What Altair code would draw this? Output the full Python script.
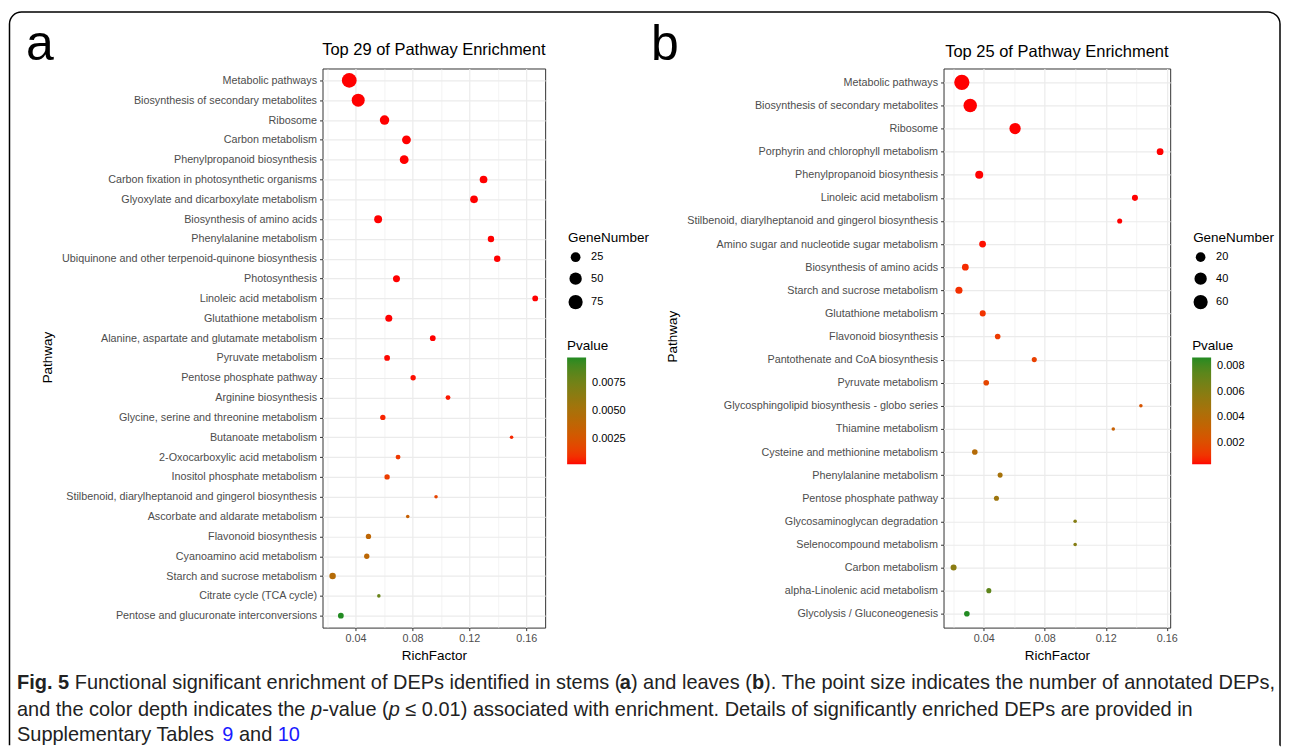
import altair as alt
import pandas as pd

# ---------------- data: panel a (stems) ----------------
pathways_a = [
    "Metabolic pathways", "Biosynthesis of secondary metabolites", "Ribosome",
    "Carbon metabolism", "Phenylpropanoid biosynthesis",
    "Carbon fixation in photosynthetic organisms", "Glyoxylate and dicarboxylate metabolism",
    "Biosynthesis of amino acids", "Phenylalanine metabolism",
    "Ubiquinone and other terpenoid-quinone biosynthesis", "Photosynthesis",
    "Linoleic acid metabolism", "Glutathione metabolism",
    "Alanine, aspartate and glutamate metabolism", "Pyruvate metabolism",
    "Pentose phosphate pathway", "Arginine biosynthesis",
    "Glycine, serine and threonine metabolism", "Butanoate metabolism",
    "2-Oxocarboxylic acid metabolism", "Inositol phosphate metabolism",
    "Stilbenoid, diarylheptanoid and gingerol biosynthesis",
    "Ascorbate and aldarate metabolism", "Flavonoid biosynthesis",
    "Cyanoamino acid metabolism", "Starch and sucrose metabolism",
    "Citrate cycle (TCA cycle)", "Pentose and glucuronate interconversions",
]
rich_a = [0.0356, 0.0419, 0.0604, 0.0758, 0.0742, 0.1300, 0.1233, 0.0559, 0.1352, 0.1396,
          0.0688, 0.1663, 0.0634, 0.0943, 0.0622, 0.0805, 0.1050, 0.0592, 0.1497, 0.0699,
          0.0622, 0.0966, 0.0767, 0.0491, 0.0479, 0.0239, 0.0564, 0.0297]
genes_a = [85, 58, 23, 19, 19, 13, 13, 14, 8, 8, 10, 6, 10, 6, 6, 5, 4, 5, 2, 4, 5, 2, 2, 5,
           5, 8, 2, 6]
pval_a = [2.1e-15, 8.4e-12, 3.0e-9, 5.6e-8, 1.1e-7, 4.2e-6, 9.8e-6, 2.3e-5, 4.1e-5, 6.2e-5,
          8.0e-5, 1.3e-4, 1.6e-4, 0.0003, 0.00035, 0.0004, 0.0005, 0.0007, 0.0008, 0.0012,
          0.0014, 0.0017, 0.0034, 0.0039, 0.0040, 0.0044, 0.0079, 0.0097]

# ---------------- data: panel b (leaves) ----------------
pathways_b = [
    "Metabolic pathways", "Biosynthesis of secondary metabolites", "Ribosome",
    "Porphyrin and chlorophyll metabolism", "Phenylpropanoid biosynthesis",
    "Linoleic acid metabolism", "Stilbenoid, diarylheptanoid and gingerol biosynthesis",
    "Amino sugar and nucleotide sugar metabolism", "Biosynthesis of amino acids",
    "Starch and sucrose metabolism", "Glutathione metabolism", "Flavonoid biosynthesis",
    "Pantothenate and CoA biosynthesis", "Pyruvate metabolism",
    "Glycosphingolipid biosynthesis - globo series", "Thiamine metabolism",
    "Cysteine and methionine metabolism", "Phenylalanine metabolism",
    "Pentose phosphate pathway", "Glycosaminoglycan degradation",
    "Selenocompound metabolism", "Carbon metabolism",
    "alpha-Linolenic acid metabolism", "Glycolysis / Gluconeogenesis",
]
rich_b = [0.0256, 0.0311, 0.0605, 0.1556, 0.0370, 0.1391, 0.1291, 0.0392, 0.0279, 0.0237,
          0.0393, 0.0491, 0.0731, 0.0416, 0.1430, 0.1249, 0.0341, 0.0507, 0.0483, 0.0999,
          0.0999, 0.0202, 0.0433, 0.0289]
genes_b = [75, 52, 31, 8, 12, 6, 4, 8, 8, 9, 6, 5, 4, 5, 2, 2, 5, 4, 4, 2, 2, 6, 4, 5]
pval_b = [1e-14, 5e-11, 2e-8, 3e-6, 2e-5, 6e-5, 1.1e-4, 0.0004, 0.0008, 0.0009, 0.0010,
          0.0012, 0.0014, 0.0016, 0.0023, 0.0031, 0.0040, 0.0046, 0.0050, 0.0060, 0.0060,
          0.0058, 0.0074, 0.0087]

# ---------------- ticks / legends / texts ----------------
x_ticks = [0.02, 0.04, 0.06, 0.08, 0.10, 0.12, 0.14, 0.16]
size_legend_a = [25, 50, 75]
size_legend_b = [20, 40, 60]
p_legend_a = [0.0025, 0.005, 0.0075]
p_legend_b = [0.002, 0.004, 0.006, 0.008]
title_a = "Top 29 of Pathway Enrichment"
title_b = "Top 25 of Pathway Enrichment"

# caption segments (page coordinates): (text, x, y, weight, style, color)
CAP_INK = "#222222"
LINK = "#1a1aff"
caption = [
    ("Fig. 5", 16, 682, "bold", "normal", CAP_INK),
    ("Functional significant enrichment of DEPs identified in stems (", 73.8, 682, "normal", "normal", CAP_INK),
    ("a", 619.8, 682, "bold", "normal", CAP_INK),
    (") and leaves (", 630.9, 682, "normal", "normal", CAP_INK),
    ("b", 752.1, 682, "bold", "normal", CAP_INK),
    ("). The point size indicates the number of annotated DEPs,", 764.3, 682, "normal", "normal", CAP_INK),
    ("and the color depth indicates the", 16, 710, "normal", "normal", CAP_INK),
    ("p", 310.6, 710, "normal", "italic", CAP_INK),
    ("-value (", 321.7, 710, "normal", "normal", CAP_INK),
    ("p", 388.4, 710, "normal", "italic", CAP_INK),
    ("\u2264 0.01) associated with enrichment. Details of significantly enriched DEPs are provided in", 405, 710, "normal", "normal", CAP_INK),
    ("Supplementary Tables", 16, 735, "normal", "normal", CAP_INK),
    ("9", 221.6, 735, "normal", "normal", LINK),
    ("and", 238.3, 735, "normal", "normal", CAP_INK),
    ("10", 277.2, 735, "normal", "normal", LINK),
]

FONT = "Liberation Sans"
GREEN = "#228B22"

# page positions of the two plot areas
A_X0, A_Y0 = 322, 67
B_X0 = 944
W_A, W_B = 223, 227
PLOT_H = 560

minor_test = "round(datum.value * 100) % 4 != 0"


def text_layer(s, x, y, size, weight="normal", style="normal", color="black",
               align="left", baseline="middle"):
    return alt.Chart(pd.DataFrame({"t": [s]})).mark_text(
        align=align, baseline=baseline, fontSize=size, fontWeight=weight,
        fontStyle=style, color=color, font=FONT,
    ).encode(x=alt.value(x), y=alt.value(y), text="t:N")


def panel(pathways, rich, genes, pvals, xdom, width, size_dom, size_rng, size_vals,
          p_dom, p_vals, p_fmt, ytitle_x, ytitle_y, legend_x):
    df = pd.DataFrame({"Pathway": pathways, "RichFactor": rich,
                       "GeneNumber": genes, "Pvalue": pvals})
    return alt.Chart(df).mark_circle(opacity=1, strokeWidth=0).encode(
        x=alt.X("RichFactor:Q",
                scale=alt.Scale(domain=xdom, nice=False, zero=False),
                axis=alt.Axis(
                    values=x_ticks,
                    labelExpr="round(datum.value * 100) % 4 == 0 ? format(datum.value, '.2f') : ''",
                    labelFontSize=10.8, labelColor="#4D4D4D", labelPadding=1.5,
                    labelOverlap=False, labelFlush=False,
                    tickSize=3,
                    tickColor={"condition": {"test": minor_test, "value": "transparent"},
                               "value": "#333333"},
                    domain=False, grid=True, gridColor="#EBEBEB",
                    gridWidth={"condition": {"test": minor_test, "value": 0.6},
                               "value": 1.2},
                    title="RichFactor", titleFontSize=13.5, titleFontWeight="normal",
                    titleColor="black", titleY=28, titleBaseline="middle",
                )),
        y=alt.Y("Pathway:N", sort=pathways,
                scale=alt.Scale(type="point", padding=0.6),
                axis=alt.Axis(
                    labelFontSize=10.8, labelColor="#4D4D4D", labelPadding=3,
                    labelLimit=400, tickSize=3, tickColor="#333333", domain=False,
                    grid=True, gridColor="#EBEBEB", gridWidth=1.2,
                    title="Pathway", titleFontSize=13.5, titleFontWeight="normal",
                    titleColor="black", titleAngle=-90, titleX=ytitle_x, titleY=ytitle_y,
                    titleAlign="center", titleBaseline="middle",
                )),
        size=alt.Size("GeneNumber:Q",
                      scale=alt.Scale(type="pow", exponent=0.65, domain=size_dom,
                                      range=size_rng),
                      legend=alt.Legend(
                          title="GeneNumber", values=size_vals, orient="none",
                          legendX=legend_x + 1, legendY=163,
                          titleFontSize=13.5, titleFontWeight="normal", titleColor="black",
                          titlePadding=7, labelFontSize=11, labelColor="black",
                          labelOffset=8, rowPadding=9.5, symbolType="circle",
                          symbolFillColor="black", symbolStrokeColor="black",
                          symbolStrokeWidth=0, symbolOpacity=1,
                      )),
        color=alt.Color("Pvalue:Q",
                        scale=alt.Scale(domain=p_dom, range=["#FF0000", GREEN],
                                        interpolate="lab", clamp=True),
                        legend=alt.Legend(
                            title="Pvalue", values=p_vals, format=p_fmt, orient="none",
                            legendX=legend_x, legendY=271, direction="vertical",
                            gradientLength=107, gradientThickness=19,
                            gradientStrokeWidth=0,
                            titleFontSize=13.5, titleFontWeight="normal",
                            titleColor="black", titlePadding=5,
                            labelFontSize=11, labelColor="black", labelOffset=6,
                        )),
    ).properties(width=width, height=PLOT_H)


pa = panel(pathways_a, rich_a, genes_a, pval_a, [0.0168, 0.1733], W_A,
           [2, 85], [12.6, 219], size_legend_a, [0.0003, 0.0097], p_legend_a, ".4f",
           -275, 289, 245)
pb = panel(pathways_b, rich_b, genes_b, pval_b, [0.0136, 0.1622], W_B,
           [2, 75], [12.6, 235], size_legend_b, [0.0003, 0.0087], p_legend_b, ".3f",
           -271, 268, 249)

# rounded frame of the whole figure (bottom edge hidden with a dash pattern)
FL, FR, FT, FB, FRAD = 8.5, 1281, 10.5, 745, 12
top_run = (FR - FL - 2 * FRAD) + 3.14159 * FRAD / 2 + (FB - FT - FRAD)
frame = alt.Chart(pd.DataFrame({"k": [0]})).mark_rect(
    fillOpacity=0, stroke="black", strokeWidth=1.5,
    cornerRadiusTopLeft=FRAD, cornerRadiusTopRight=FRAD,
    strokeDash=[top_run, FR - FL, 5000, 0],
).encode(x=alt.value(FL - A_X0), x2=alt.value(FR - A_X0),
         y=alt.value(FT - A_Y0), y2=alt.value(FB - A_Y0))

layers_a = [
    frame, pa,
    text_layer("a", 25 - A_X0, 59 - A_Y0, 50, baseline="alphabetic"),
    text_layer(title_a, W_A / 2, 48 - A_Y0, 16.5, align="center"),
]
for s, x, y, w, st, c in caption:
    layers_a.append(text_layer(s, x - A_X0, y - A_Y0, 20, weight=w, style=st, color=c))
left = alt.layer(*layers_a)
right = alt.layer(
    pb,
    text_layer("b", 651 - B_X0, 59 - A_Y0, 50, baseline="alphabetic"),
    text_layer(title_b, W_B / 2, 50 - A_Y0, 16.5, align="center"),
)

chart = alt.hconcat(left, right, spacing=B_X0 - A_X0 - W_A, bounds="flush").resolve_scale(
    x="independent", y="independent", color="independent", size="independent"
).resolve_legend(color="independent", size="independent").properties(
    padding={"left": 0, "top": 2, "right": 0, "bottom": 0}
).configure(font=FONT, background="white").configure_view(
    stroke="#333333", strokeWidth=1
)

chart.save("out.html", embed_options={"renderer": "svg", "actions": False})
